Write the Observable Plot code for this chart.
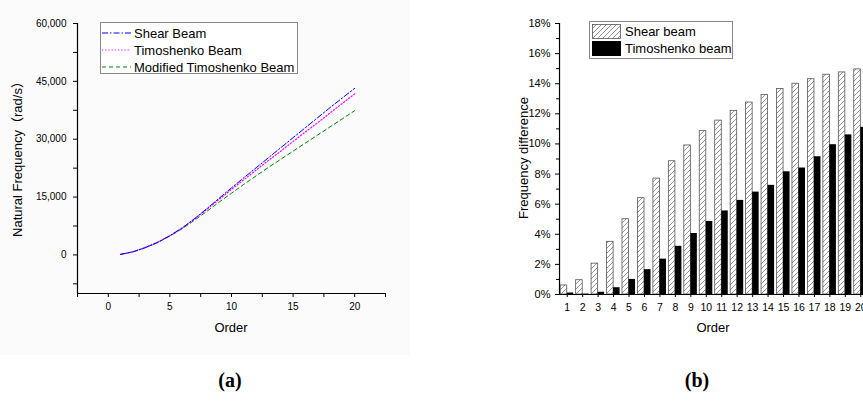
<!DOCTYPE html>
<html><head><meta charset="utf-8">
<script src="https://cdn.jsdelivr.net/npm/d3@7"></script>
<script src="https://cdn.jsdelivr.net/npm/@observablehq/plot@0.6"></script>
<style>
html,body{margin:0;padding:0;background:#fff;overflow:hidden;}
#root{position:relative;width:863px;height:405px;overflow:hidden;font-family:"Liberation Sans",Arial,sans-serif;color:#000;}
.abs{position:absolute;white-space:nowrap;}
#bgA{position:absolute;left:0;top:0;width:410px;height:355px;background:#fbfbfb;}
</style></head><body>
<svg width="0" height="0" style="position:absolute">
  <defs>
    <pattern id="hatch" patternUnits="userSpaceOnUse" width="5" height="5">
      <rect width="5" height="5" fill="#fff"/>
      <path d="M0,5 L5,0 M-1,1 L1,-1 M4,6 L6,4" stroke="#777" stroke-width="0.8"/>
    </pattern>
  </defs>
</svg>
<div id="root"><div id="bgA"></div></div>
<script>
// ---------- data ----------
const orders = [1,2,3,4,5,6,7,8,9,10,11,12,13,14,15,16,17,18,19,20];
// panel (a): natural frequency (rad/s)
const shearFreq    = [150, 800, 1900, 3250, 5000, 7000, 9400, 12000, 14700, 17400, 20000, 22600, 25200, 27800, 30400, 33000, 35600, 38200, 40700, 43200];
const timoFreq     = [150, 800, 1900, 3250, 5000, 6950, 9300, 11800, 14400, 17000, 19500, 22000, 24500, 26900, 29400, 31900, 34300, 36800, 39300, 41750];
const modTimoFreq  = [150, 800, 1880, 3200, 4900, 6800, 9000, 11300, 13700, 16000, 18300, 20500, 22700, 24800, 26900, 29000, 31100, 33200, 35300, 37400];
const seriesA = ["Shear Beam", "Timoshenko Beam", "Modified Timoshenko Beam"];
const xTicksA = [0, 5, 10, 15, 20];
const xMinorA = [-2.5, 2.5, 7.5, 12.5, 17.5, 22.5];
const yTicksA = [0, 15000, 30000, 45000, 60000];
const yMinorA = [-7500, 7500, 22500, 37500, 52500];
// panel (b): frequency difference (%)
const shearDiff = [0.6, 0.95, 2.05, 3.5, 5.0, 6.4, 7.7, 8.85, 9.9, 10.85, 11.55, 12.2, 12.75, 13.25, 13.65, 14.0, 14.3, 14.6, 14.75, 14.95];
const timoDiff  = [0.1, 0.03, 0.15, 0.45, 1.0, 1.65, 2.35, 3.2, 4.05, 4.85, 5.55, 6.25, 6.8, 7.25, 8.15, 8.4, 9.15, 9.95, 10.6, 11.1];
const seriesB = ["Shear beam", "Timoshenko beam"];
const yTicksB = [0, 2, 4, 6, 8, 10, 12, 14, 16, 18];
const yMinorB = [1, 3, 5, 7, 9, 11, 13, 15, 17];

const root = document.getElementById("root");
const FONT = "Liberation Sans, Arial, sans-serif";

// ---------- panel (a) ----------
const toRows = arr => orders.map((o, i) => ({order: o, value: arr[i]}));
const left = Plot.plot({
  width: 410, height: 355,
  marginLeft: 77, marginRight: 25, marginTop: 23, marginBottom: 62,
  style: {background: "transparent", fontFamily: FONT, fontSize: "10px", color: "#000", overflow: "visible"},
  x: {domain: [-2.5, 22.5]},
  y: {domain: [-10000, 60000]},
  marks: [
    Plot.ruleX([-2.5], {stroke: "#000", strokeWidth: 1.2}),
    Plot.ruleY([-10000], {stroke: "#000", strokeWidth: 1.2}),
    Plot.axisX({ticks: xTicksA, tickSize: 4, tickPadding: 5, tickFormat: d => String(d), label: null}),
    Plot.axisX({ticks: xMinorA, tickSize: 4, tickFormat: () => "", label: null}),
    Plot.axisY({ticks: yTicksA, tickSize: 4, tickPadding: 7, tickFormat: d3.format(","), label: null}),
    Plot.axisY({ticks: yMinorA, tickSize: 4, tickFormat: () => "", label: null}),
    Plot.line(toRows(modTimoFreq), {x: "order", y: "value", stroke: "#008000", strokeWidth: 1, strokeDasharray: "4,3"}),
    Plot.line(toRows(timoFreq), {x: "order", y: "value", stroke: "#ff00ff", strokeWidth: 1.2, strokeDasharray: "1.2,2"}),
    Plot.line(toRows(shearFreq), {x: "order", y: "value", stroke: "#0000ff", strokeWidth: 1, strokeDasharray: "6,2,1.5,2"})
  ]
});
left.style.position = "absolute"; left.style.left = "0px"; left.style.top = "0px";
root.appendChild(left);

// ---------- panel (b) ----------
const rowsB = orders.map((o, i) => ({order: o, shear: shearDiff[i], timo: timoDiff[i]}));
const right = Plot.plot({
  width: 380, height: 355,
  marginLeft: 59, marginRight: 12, marginTop: 23, marginBottom: 61,
  style: {background: "transparent", fontFamily: FONT, fontSize: "11px", color: "#000", overflow: "visible"},
  x: {type: "band", domain: orders, padding: 0, round: false},
  y: {domain: [0, 18]},
  marks: [
    Plot.barY(rowsB, {x: "order", y: "shear", fill: "url(#hatch)", stroke: "#555", strokeWidth: 0.8, insetLeft: 1.2, insetRight: 7.7}),
    Plot.barY(rowsB, {x: "order", y: "timo", fill: "#000", insetLeft: 7.7, insetRight: 1.2}),
    Plot.ruleY([0], {stroke: "#000", strokeWidth: 1.2}),
    Plot.ruleX([orders[0]], {stroke: "#000", strokeWidth: 1.2, dx: -7.7}),
    Plot.axisX({ticks: orders, tickSize: 3, tickPadding: 6, fontSize: 10.5, label: null}),
    Plot.axisY({ticks: yTicksB, tickSize: 4, tickPadding: 5, tickFormat: d => d + "%", label: null}),
    Plot.axisY({ticks: yMinorB, tickSize: 3, tickFormat: () => "", label: null})
  ]
});
right.style.position = "absolute"; right.style.left = "500px"; right.style.top = "0px";
root.appendChild(right);

// ---------- titles, legends, captions ----------
function addText(txt, x, y, opts = {}) {
  const d = document.createElement("div");
  d.className = "abs";
  d.textContent = txt;
  d.style.left = x + "px"; d.style.top = y + "px";
  d.style.fontSize = (opts.size || 13) + "px";
  if (opts.family) d.style.fontFamily = opts.family;
  if (opts.weight) d.style.fontWeight = opts.weight;
  d.style.transform = "translate(-50%,-50%)" + (opts.rotate ? " rotate(-90deg)" : "");
  d.style.lineHeight = "1";
  root.appendChild(d);
  return d;
}
addText("Order", 231, 327);
addText("Order", 713, 327);
addText("Natural Frequency（rad/s）", 17, 156, {rotate: true, family: "Liberation Sans, Arial, 'Noto Sans CJK SC', sans-serif"});
addText("Frequency difference", 523, 158, {rotate: true});
addText("(a)", 230, 380, {size: 20, weight: "bold", family: "Liberation Serif, serif"});
addText("(b)", 697, 380, {size: 20, weight: "bold", family: "Liberation Serif, serif"});

// legend (a)
const legA = document.createElement("div");
legA.className = "abs";
Object.assign(legA.style, {left: "100px", top: "22px", width: "196px", height: "50px", border: "1px solid #888", background: "#fff"});
root.appendChild(legA);
const legAStyles = [
  {stroke: "#0000ff", dash: "6,2,1.5,2", w: 1},
  {stroke: "#ff00ff", dash: "1.2,2", w: 1.2},
  {stroke: "#008000", dash: "4,3", w: 1}
];
seriesA.forEach((name, i) => {
  const cy = 10 + i * 17;
  const s = document.createElementNS("http://www.w3.org/2000/svg", "svg");
  s.setAttribute("width", 30); s.setAttribute("height", 6);
  s.style.position = "absolute"; s.style.left = "1px"; s.style.top = (cy - 3) + "px";
  s.innerHTML = `<line x1="0" x2="29" y1="3" y2="3" stroke="${legAStyles[i].stroke}" stroke-width="${legAStyles[i].w}" stroke-dasharray="${legAStyles[i].dash}"/>`;
  legA.appendChild(s);
  const t = document.createElement("div");
  t.className = "abs"; t.textContent = name;
  Object.assign(t.style, {left: "33px", top: (cy - 7.5) + "px", fontSize: "13px", lineHeight: "15px"});
  legA.appendChild(t);
});

// legend (b)
const legB = document.createElement("div");
legB.className = "abs";
Object.assign(legB.style, {left: "589px", top: "21px", width: "142px", height: "36px", border: "1px solid #888", background: "#fff"});
root.appendChild(legB);
seriesB.forEach((name, i) => {
  const top = 2 + i * 17;
  const s = document.createElementNS("http://www.w3.org/2000/svg", "svg");
  s.setAttribute("width", 29); s.setAttribute("height", 15);
  s.style.position = "absolute"; s.style.left = "2px"; s.style.top = top + "px";
  s.innerHTML = i === 0
    ? `<rect x="0.5" y="0.5" width="28" height="14" fill="url(#hatch)" stroke="#555" stroke-width="0.8"/>`
    : `<rect x="0" y="0" width="29" height="15" fill="#000"/>`;
  legB.appendChild(s);
  const t = document.createElement("div");
  t.className = "abs"; t.textContent = name;
  Object.assign(t.style, {left: "35px", top: (top) + "px", fontSize: "13px", lineHeight: "15px"});
  legB.appendChild(t);
});
</script>
</body></html>
